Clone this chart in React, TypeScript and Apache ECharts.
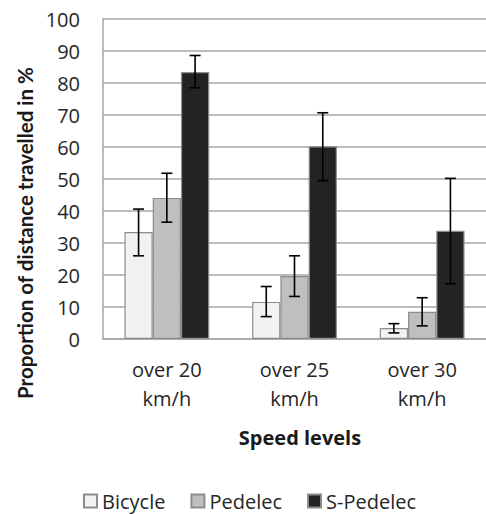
import React, { useEffect, useRef } from "react";
import * as echarts from "echarts";

const categories = ["over 20\nkm/h", "over 25\nkm/h", "over 30\nkm/h"];
const seriesNames = ["Bicycle", "Pedelec", "S-Pedelec"];
const bicycle = [33.4, 11.6, 3.4];
const pedelec = [44.1, 19.7, 8.5];
const sPedelec = [83.4, 60.2, 33.8];
const bicycleLow = [26.0, 7.0, 1.9];
const bicycleHigh = [40.6, 16.4, 4.8];
const pedelecLow = [36.5, 13.3, 4.1];
const pedelecHigh = [51.8, 26.0, 12.9];
const sPedelecLow = [78.5, 49.5, 17.3];
const sPedelecHigh = [88.6, 70.7, 50.2];
const colors = ["#f2f2f2", "#bfbfbf", "#232323"];
const yTitle = "Proportion of distance travelled in %";
const xTitle = "Speed levels";

const BAR_CAT_GAP = 0.336;

export default function App() {
  const ref = useRef<HTMLDivElement>(null);
  useEffect(() => {
    if (!ref.current) return;
    const chart = echarts.init(ref.current, null, { renderer: "svg" });
    const values = [bicycle, pedelec, sPedelec];
    const lows = [bicycleLow, pedelecLow, sPedelecLow];
    const highs = [bicycleHigh, pedelecHigh, sPedelecHigh];
    const errData: number[][] = [];
    for (let s = 0; s < 3; s++) {
      for (let c = 0; c < categories.length; c++) {
        errData.push([c, s, lows[s][c], highs[s][c]]);
      }
    }
    const font = "'Open Sans', sans-serif";
    chart.setOption({
      animation: false,
      grid: { left: 103, top: 19, width: 393, height: 320, containLabel: false },
      legend: {
        data: seriesNames,
        left: 83,
        top: 489,
        padding: 0,
        icon: "rect",
        itemWidth: 13,
        itemHeight: 13,
        itemGap: 25,
        textStyle: { fontFamily: font, fontSize: 20, color: "#262626", lineHeight: 24 },
      },
      xAxis: {
        type: "category",
        data: categories,
        axisLine: { show: true, lineStyle: { color: "#a6a6a6", width: 1.5 } },
        axisTick: { show: false },
        axisLabel: {
          fontFamily: font,
          fontSize: 20,
          lineHeight: 29,
          color: "#262626",
          margin: 16,
        },
      },
      yAxis: {
        type: "value",
        min: 0,
        max: 100,
        interval: 10,
        axisLine: { show: true, lineStyle: { color: "#a6a6a6", width: 1.5 } },
        axisTick: { show: false },
        splitLine: { show: true, lineStyle: { color: "#a6a6a6", width: 1.5 } },
        axisLabel: { fontFamily: font, fontSize: 20, color: "#262626", margin: 23 },
      },
      graphic: [
        {
          type: "text",
          x: 25,
          y: 233,
          rotation: Math.PI / 2,
          style: {
            text: yTitle,
            fontFamily: "Lato, sans-serif",
            fontWeight: "bold",
            fontSize: 20.5,
            fill: "#1a1a1a",
            textAlign: "center",
            textVerticalAlign: "middle",
          },
        },
        {
          type: "text",
          x: 300,
          y: 437,
          style: {
            text: xTitle,
            fontFamily: font,
            fontWeight: "bold",
            fontSize: 20,
            fill: "#1a1a1a",
            textAlign: "center",
            textVerticalAlign: "middle",
          },
        },
      ],
      series: [
        ...seriesNames.map((name, i) => ({
          name,
          type: "bar",
          data: values[i],
          barGap: "0%",
          barCategoryGap: BAR_CAT_GAP * 100 + "%",
          itemStyle: { color: colors[i], borderColor: "#8c8c8c", borderWidth: 1.2 },
        })),
        {
          type: "custom",
          data: errData,
          z: 10,
          silent: true,
          renderItem: (params: any, api: any) => {
            const c = api.value(0);
            const s = api.value(1);
            const band = api.size([1, 0])[0];
            const barW = (band * (1 - BAR_CAT_GAP)) / 3;
            const x = api.coord([c, 0])[0] + (s - 1) * barW;
            const yl = api.coord([c, api.value(2)])[1];
            const yh = api.coord([c, api.value(3)])[1];
            const cap = 5.5;
            const st = { stroke: "#000", lineWidth: 1.6 };
            return {
              type: "group",
              children: [
                { type: "line", shape: { x1: x, y1: yl, x2: x, y2: yh }, style: st },
                { type: "line", shape: { x1: x - cap, y1: yl, x2: x + cap, y2: yl }, style: st },
                { type: "line", shape: { x1: x - cap, y1: yh, x2: x + cap, y2: yh }, style: st },
              ],
            };
          },
        },
      ],
    });
    return () => chart.dispose();
  }, []);
  return (
    <div
      ref={ref}
      style={{ position: "absolute", left: 0, top: 0, width: 486, height: 515, background: "#fff" }}
    />
  );
}
